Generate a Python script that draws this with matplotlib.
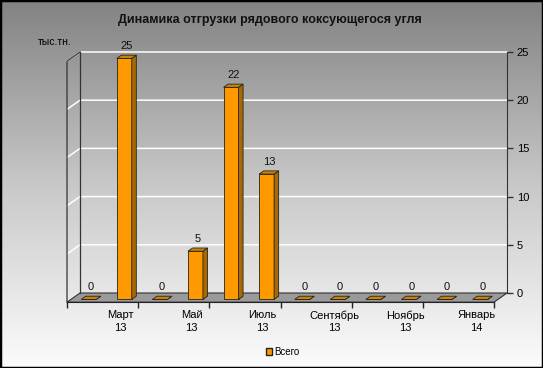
import numpy as np
import matplotlib.pyplot as plt
from matplotlib.patches import Polygon, Patch, Rectangle
from matplotlib.colors import LinearSegmentedColormap

plt.rcParams['font.family'] = ['Liberation Sans', 'DejaVu Sans']

# data
months = ['Февраль\n13', 'Март\n13', 'Апрель\n13', 'Май\n13', 'Июнь\n13', 'Июль\n13',
          'Август\n13', 'Сентябрь\n13', 'Октябрь\n13', 'Ноябрь\n13', 'Декабрь\n13', 'Январь\n14']
values = [0, 25, 0, 5, 22, 13, 0, 0, 0, 0, 0, 0]
value_labels = ['0', '25', '0', '5', '22', '13', '0', '0', '0', '0', '0', '0']
y_ticks = [0, 5, 10, 15, 20, 25]
series_name = 'Всего'

# fake 3d geometry (in data units)
DX, DY = -0.365, -0.95      # full floor depth
F, BD = 0.7, 0.35           # bar front plane, bar depth (fractions of floor depth)
BW = 0.42                   # bar width
ORANGE, SIDE, TOP = '#ff9900', '#a86a00', '#cc8400'
EDGE = '#222222'

W, H = 543, 368
fig = plt.figure(figsize=(W / 100, H / 100), dpi=100)

# gradient background + frame
bg = fig.add_axes([0, 0, 1, 1], zorder=-1)
cmap = LinearSegmentedColormap.from_list('bg', ['#828282', '#c8c8c8', '#fcfcfc'])
bg.imshow(np.linspace(0, 1, 256).reshape(-1, 1), aspect='auto', cmap=cmap,
          extent=[0, 1, 0, 1], origin='upper')
bg.add_patch(Rectangle((0, 0), 1, 1, transform=bg.transAxes, fill=False,
                       edgecolor='black', lw=2.5))
bg.axis('off')

ax = fig.add_axes([60 / W, 1 - 312 / H, 452 / W, 274 / H])
ax.set_xlim(-0.562, 12.14)
ax.set_ylim(-1.97, 26.45)
ax.patch.set_alpha(0)
n = len(values)

# floor
ax.add_patch(Polygon([(0, 0), (n, 0), (n + DX, DY), (DX, DY)], closed=True,
                     facecolor='#9a9a9a', edgecolor='#333333', lw=0.8, zorder=1))

# gridlines on back wall and side wall
for v in y_ticks[1:]:
    ax.plot([DX, 0, n], [v + DY, v, v], color='white', lw=1.1, zorder=1)

# side wall outline
top = y_ticks[-1]
ax.plot([0, 0], [0, top], color='#333333', lw=0.9, zorder=1)
ax.plot([DX, DX, 0], [DY, top + DY, top], color='#333333', lw=0.9, zorder=1)

# bars
fx, fy = F * DX, F * DY
bx, by = (F - BD) * DX, (F - BD) * DY
dx, dy = bx - fx, by - fy
centers = np.arange(n) + 0.5 + fx
ax.bar(centers, values, bottom=fy, width=BW, color=ORANGE, edgecolor=EDGE, lw=0.6, zorder=3)
for c, v, lab in zip(centers, values, value_labels):
    x0, x1 = c - BW / 2, c + BW / 2
    ax.add_patch(Polygon([(x1, fy), (x1, v + fy), (x1 + dx, v + by), (x1 + dx, by)],
                         closed=True, facecolor=SIDE, edgecolor=EDGE, lw=0.6, zorder=3))
    ax.add_patch(Polygon([(x0, v + fy), (x1, v + fy), (x1 + dx, v + by), (x0 + dx, v + by)],
                         closed=True, facecolor=TOP, edgecolor=EDGE, lw=0.6, zorder=3))
    ax.annotate(lab, (c + dx / 2, v + by), xytext=(0, 3), textcoords='offset points',
                ha='center', va='bottom', fontsize=8, color='#111111')

# axes
for s in ['top', 'left']:
    ax.spines[s].set_visible(False)
ax.spines['right'].set_position(('data', n))
ax.spines['right'].set_bounds(0, top)
ax.spines['right'].set_color('#333333')
ax.yaxis.tick_right()
ax.set_yticks(y_ticks)
ax.tick_params(axis='y', length=4, width=1, color='#333333', labelsize=8, pad=3)

ax.spines['bottom'].set_position(('data', DY))
ax.spines['bottom'].set_bounds(DX, n + DX)
ax.spines['bottom'].set_color('#222222')
ax.set_xticks(DX + np.arange(0, n + 1, 2))
ax.set_xticklabels([])
ax.set_xticks(DX + np.arange(1, n, 2) + 0.5, minor=True)
ax.set_xticklabels(months[1::2], minor=True)
ax.tick_params(axis='x', which='major', length=4, width=1, color='#222222')
ax.tick_params(axis='x', which='minor', length=0, labelsize=8, pad=6)
for lbl in ax.get_xticklabels(minor=True):
    lbl.set_linespacing(1.3)

fig.text(270 / W, 1 - 20 / H, 'Динамика отгрузки рядового коксующегося угля',
         ha='center', va='center', fontsize=9, fontweight='bold', color='#111111')
fig.text(55 / W, 1 - 42 / H, 'тыс.тн.', ha='center', va='center', fontsize=7.5)

fig.legend(handles=[Patch(facecolor=ORANGE, edgecolor=EDGE, label=series_name)],
           loc='center', bbox_to_anchor=(283 / W, 1 - 352 / H), frameon=False,
           fontsize=7, handlelength=0.6, handleheight=0.6, handletextpad=0.2)

fig.savefig('out.png', dpi=100)
